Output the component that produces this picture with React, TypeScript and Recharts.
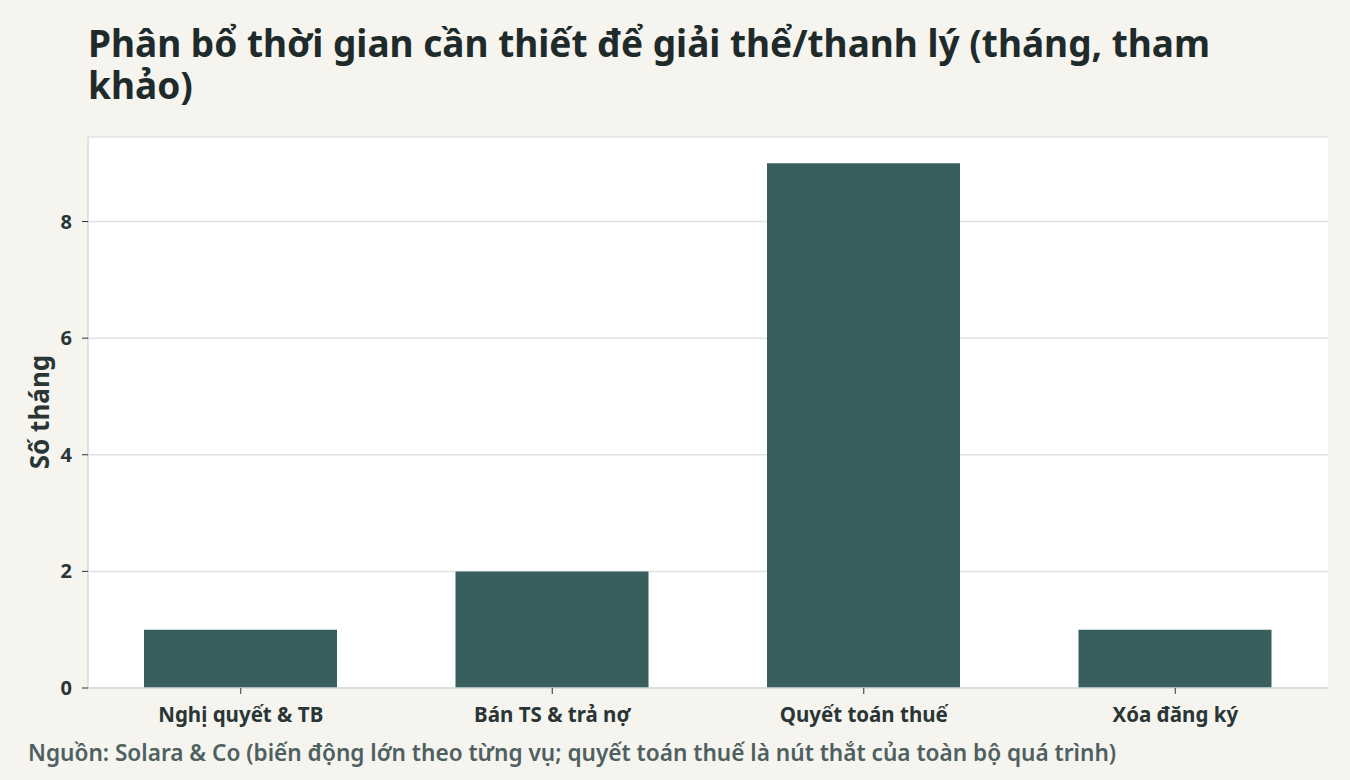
import React from 'react';
import { BarChart, Bar, XAxis, YAxis, CartesianGrid } from 'recharts';

// categories and months
const categories = ['Nghị quyết & TB', 'Bán TS & trả nợ', 'Quyết toán thuế', 'Xóa đăng ký'];
const months = [1, 2, 9, 1];
const yTicks = [0, 2, 4, 6, 8];

const title = 'Phân bổ thời gian cần thiết để giải thể/thanh lý (tháng, tham khảo)';
const yLabel = 'Số tháng';
const source = 'Nguồn: Solara & Co (biến động lớn theo từng vụ; quyết toán thuế là nút thắt của toàn bộ quá trình)';

const FONT = '"Noto Sans", sans-serif';

const data = categories.map((name, i) => ({ name, value: months[i] }));

export default function App() {
    return (
        <div style={{ position: 'absolute', left: 0, top: 0, width: 1350, height: 780, background: '#f5f4ef', fontFamily: FONT, overflow: 'hidden' }}>
            <div style={{ position: 'absolute', left: 88, top: 22, width: 1235, fontSize: 37, lineHeight: '42px', fontWeight: 700, color: '#1f2b2b' }}>
                {title}
            </div>
            <div style={{ position: 'absolute', left: 0, top: 0 }}>
                <BarChart width={1350} height={780} data={data} margin={{ top: 137, right: 22, left: 28, bottom: 62 }}>
                    <CartesianGrid vertical={false} stroke="#dde3e3" strokeWidth={1.5} fill="#ffffff" />
                    <XAxis
                        dataKey="name"
                        height={30}
                        padding={{ left: -3, right: -3 }}
                        axisLine={{ stroke: '#d3dbdb', strokeWidth: 1.5 }}
                        tickLine={{ stroke: '#2a3535' }}
                        tickSize={6}
                        tickMargin={13}
                        tick={{ fontFamily: FONT, fontSize: 20.5, fontWeight: 700, fill: '#2a3535' }}
                    />
                    <YAxis
                        width={60}
                        domain={[0, 9.45]}
                        ticks={yTicks}
                        allowDataOverflow
                        axisLine={{ stroke: '#d3dbdb', strokeWidth: 1.5 }}
                        tickLine={{ stroke: '#2a3535' }}
                        tickSize={6}
                        tickMargin={10}
                        tick={{ fontFamily: FONT, fontSize: 20, fontWeight: 700, fill: '#2a3535' }}
                    />
                    <Bar dataKey="value" fill="#385e5e" barSize={193} isAnimationActive={false} />
                </BarChart>
            </div>
            <div style={{ position: 'absolute', left: 39, top: 412, transform: 'translate(-50%, -50%) rotate(-90deg)', whiteSpace: 'nowrap', fontSize: 26, fontWeight: 700, color: '#2a3535' }}>
                {yLabel}
            </div>
            <div style={{ position: 'absolute', left: 28, top: 741, whiteSpace: 'nowrap', fontSize: 22.6, lineHeight: '23px', fontWeight: 600, color: '#4f6060' }}>
                {source}
            </div>
        </div>
    );
}
